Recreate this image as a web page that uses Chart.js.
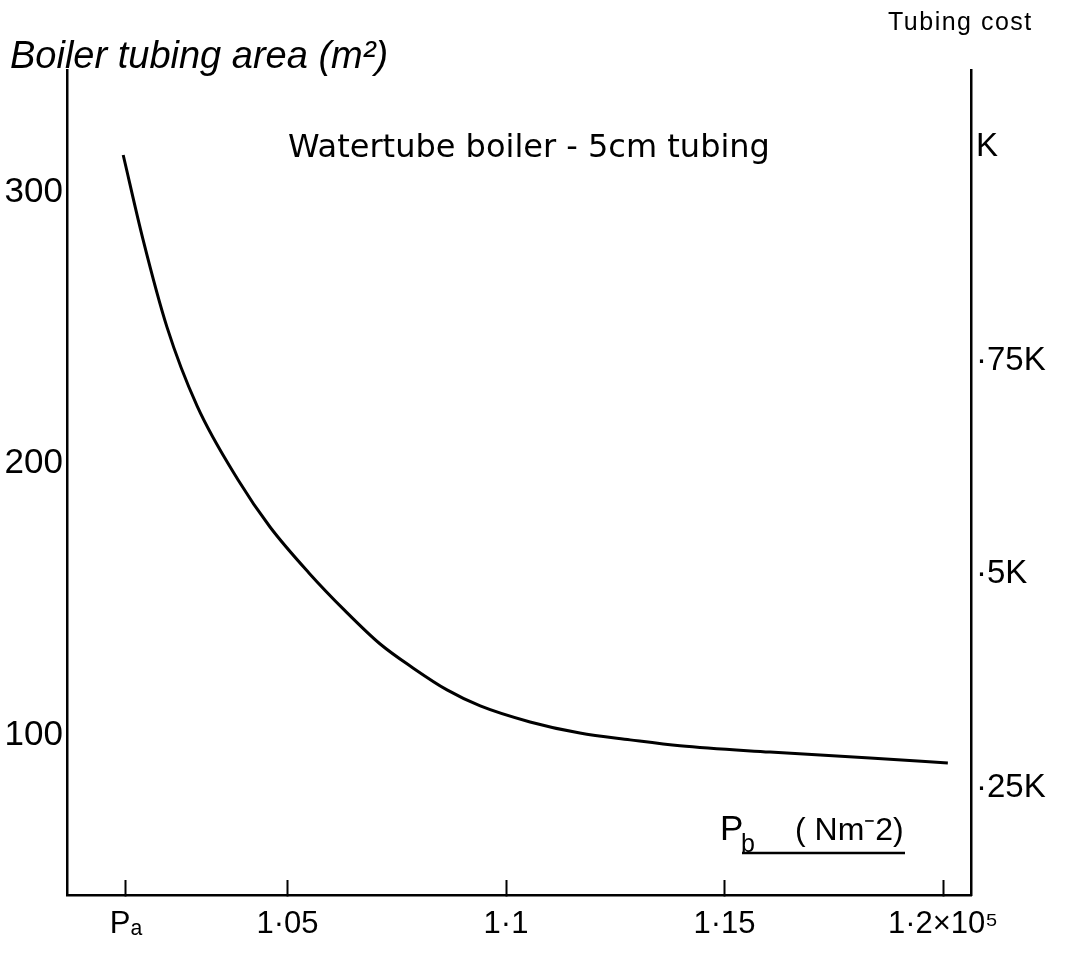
<!DOCTYPE html>
<html>
<head>
<meta charset="utf-8">
<script src="https://cdn.jsdelivr.net/npm/chart.js@4/dist/chart.umd.min.js"></script>
<style>
    html, body { margin: 0; padding: 0; background: #fff; }
    #wrap { width: 1076px; height: 953px; }
</style>
</head>
<body>
<div id="wrap"><canvas id="chart" width="1076" height="953"></canvas></div>
<script>
// pressure (x 10^5 N/m2) and boiler tubing area (m2)
const pressure = [1.0124, 1.0169, 1.0224, 1.0293, 1.0387, 1.046, 1.0549, 1.0632, 1.0712, 1.0787,
    1.0865, 1.0941, 1.1055, 1.1169, 1.1284, 1.1398, 1.1604, 1.1833, 1.2011];
const tubingArea = [313.6, 282.7, 250.3, 221.2, 193.9, 176.6, 159.7, 145.7, 133.5, 124.7,
    116.6, 110.7, 104.8, 100.7, 98.2, 96.0, 93.7, 91.5, 89.7];

const pressureTicks = [1.013, 1.05, 1.1, 1.15, 1.2];
const pressureTickLabels = ['P\u2090', '1\u00b705', '1\u00b71', '1\u00b715', '1\u00b72\u00d710\u2075'];
const areaTicks = [100, 200, 300];
const costTicks = [0.25, 0.5, 0.75, 1];
const costTickLabels = ['\u00b725K', '\u00b75K', '\u00b775K', 'K'];

const sans = '"Liberation Sans", sans-serif';
const plain = '"DejaVu Sans", sans-serif';
const ink = '#000';

function fixedTicks(values) {
    return (scale) => {
        scale.ticks = values.map((value) => ({ value }));
    };
}

const annotations = {
    id: 'annotations',
    afterDraw(chart) {
        const ctx = chart.ctx;
        ctx.save();
        ctx.fillStyle = ink;
        ctx.strokeStyle = ink;
        ctx.textBaseline = 'alphabetic';
        ctx.textAlign = 'left';

        ctx.font = `italic 38px ${sans}`;
        ctx.fillText('Boiler tubing area (m\u00b2)', 10, 68);

        ctx.font = `25px ${sans}`;
        ctx.letterSpacing = '1.5px';
        ctx.fillText('Tubing cost', 888, 30);

        ctx.font = `32px ${plain}`;
        ctx.letterSpacing = '0px';
        ctx.fillText('Watertube boiler - 5cm tubing', 288, 157);

        ctx.font = `35px ${sans}`;
        ctx.fillText('P', 720, 840);
        ctx.font = `25px ${sans}`;
        ctx.fillText('b', 741, 852);
        ctx.font = `32px ${sans}`;
        ctx.fillText('( Nm\u207b2)', 795, 840);

        ctx.lineWidth = 2.5;
        ctx.beginPath();
        ctx.moveTo(742, 853);
        ctx.lineTo(905, 853);
        ctx.stroke();
        ctx.restore();
    },
};

new Chart(document.getElementById('chart'), {
    type: 'line',
    data: {
        datasets: [{
            label: 'Boiler tubing area',
            data: pressure.map((p, i) => ({ x: p, y: tubingArea[i] })),
            borderColor: ink,
            borderWidth: 3,
            pointRadius: 0,
            cubicInterpolationMode: 'monotone',
            fill: false,
            yAxisID: 'y',
        }],
    },
    options: {
        responsive: false,
        animation: false,
        events: [],
        layout: { padding: { top: 70, left: 0, right: 0, bottom: 0 } },
        plugins: {
            legend: { display: false },
            tooltip: { enabled: false },
        },
        scales: {
            x: {
                type: 'linear',
                position: 'bottom',
                min: 0.99954,
                max: 1.2064,
                afterBuildTicks: fixedTicks(pressureTicks),
                afterFit: (scale) => { scale.height = 58; },
                border: { display: true, color: ink, width: 2.5 },
                grid: {
                    display: true,
                    drawOnChartArea: false,
                    drawTicks: true,
                    tickLength: -15,
                    tickWidth: 2,
                    tickColor: ink,
                    color: ink,
                },
                ticks: {
                    autoSkip: false,
                    maxRotation: 0,
                    padding: 26,
                    color: ink,
                    font: { family: sans, size: 31 },
                    callback: (value) => pressureTickLabels[pressureTicks.indexOf(value)] ?? '',
                },
            },
            y: {
                type: 'linear',
                position: 'left',
                min: 41.07,
                max: 344.9,
                afterBuildTicks: fixedTicks(areaTicks),
                afterFit: (scale) => { scale.width = 67; },
                border: { display: true, color: ink, width: 2.5 },
                grid: { display: true, drawOnChartArea: false, drawTicks: false, color: ink },
                ticks: {
                    padding: 4,
                    color: ink,
                    font: { family: sans, size: 35 },
                    callback: (value) => String(value),
                },
            },
            cost: {
                type: 'linear',
                position: 'right',
                min: 0.1248,
                max: 1.0901,
                afterBuildTicks: fixedTicks(costTicks),
                afterFit: (scale) => { scale.width = 105; },
                border: { display: true, color: ink, width: 2.5 },
                grid: { display: true, drawOnChartArea: false, drawTicks: false, color: ink },
                ticks: {
                    padding: 5,
                    color: ink,
                    font: { family: sans, size: 33 },
                    callback: (value) => costTickLabels[costTicks.indexOf(value)] ?? '',
                },
            },
        },
    },
    plugins: [annotations],
});
</script>
</body>
</html>
